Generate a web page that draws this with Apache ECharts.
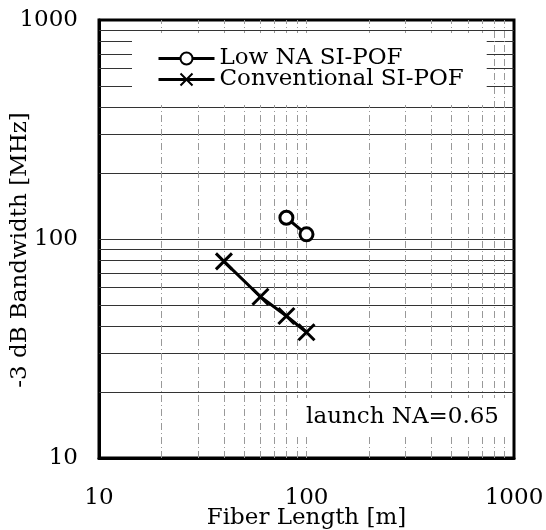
<!DOCTYPE html>
<html>
<head>
<meta charset="utf-8">
<style>
html, body { margin: 0; padding: 0; background: #fff; }
#myChart { width: 546px; height: 530px; }
</style>
<script src="https://cdn.jsdelivr.net/npm/echarts@6/dist/echarts.min.js"></script>
</head>
<body>
<div id="myChart"></div>
<script>
// data
const lowNaLength = [80, 100]
const lowNaBandwidth = [125, 105]
const convLength = [40, 60, 80, 100]
const convBandwidth = [79, 54.5, 44.5, 37.5]

// log grid lines (minor + major)
const xGridValues = [20, 30, 40, 50, 60, 70, 80, 90, 100, 200, 300, 400, 500, 600, 700, 800, 900]
const yGridValues = [20, 30, 40, 50, 60, 70, 80, 90, 100, 200, 300, 400, 500, 600, 700, 800, 900]

const FONT = 'DejaVu Serif'

let myChart = echarts.init(document.getElementById('myChart'))
myChart.setOption({
  animation: false,
  backgroundColor: '#fff',
  grid: {
    left: 99,
    right: 32,
    top: 20,
    bottom: 72,
    containLabel: false,
    outerBoundsMode: 'none',
    show: true,
    borderColor: '#000',
    borderWidth: 3
  },
  title: {
    text: 'launch NA=0.65',
    right: 38,
    top: 398,
    z: 20,
    padding: [8, 9, 8, 12],
    backgroundColor: '#fff',
    textStyle: {
      fontFamily: FONT,
      fontSize: 23,
      fontWeight: 'normal',
      color: '#000'
    }
  },
  legend: {
    data: ['Low NA SI-POF', 'Conventional SI-POF'],
    orient: 'vertical',
    left: 132,
    top: 33,
    z: 20,
    padding: [14, 23, 14, 25],
    backgroundColor: '#fff',
    itemWidth: 56,
    itemHeight: 15,
    itemGap: -2,
    lineStyle: { width: 3 },
    textStyle: {
      fontFamily: FONT,
      fontSize: 23,
      color: '#000'
    }
  },
  xAxis: {
    type: 'log',
    logBase: 10,
    min: 10,
    max: 1000,
    name: 'Fiber Length [m]',
    nameLocation: 'middle',
    nameGap: 49,
    nameMoveOverlap: false,
    nameTextStyle: { fontFamily: FONT, fontSize: 23, color: '#000' },
    axisLine: { show: true, lineStyle: { color: '#000', width: 3 } },
    axisTick: { show: false },
    splitLine: { show: false },
    axisLabel: { fontFamily: FONT, fontSize: 23, color: '#000', margin: 29, formatter: v => String(v) }
  },
  yAxis: {
    type: 'log',
    logBase: 10,
    min: 10,
    max: 1000,
    name: '-3 dB Bandwidth [MHz]',
    nameLocation: 'middle',
    nameGap: 67,
    nameMoveOverlap: false,
    nameTextStyle: { fontFamily: FONT, fontSize: 23, color: '#000', padding: [0, 22, 0, 0] },
    axisLine: { show: true, lineStyle: { color: '#000', width: 3 } },
    axisTick: { show: false },
    splitLine: { show: false },
    axisLabel: { fontFamily: FONT, fontSize: 23, color: '#000', margin: 21, formatter: v => String(v) }
  },
  series: [
    {
      name: 'hgrid',
      type: 'line',
      data: [],
      silent: true,
      z: 1,
      markLine: {
        silent: true,
        symbol: 'none',
        label: { show: false },
        lineStyle: { color: '#333', width: 1, type: 'solid' },
        data: yGridValues.map(v => ({ yAxis: v }))
      }
    },
    {
      name: 'vgrid',
      type: 'line',
      data: [],
      silent: true,
      z: 1,
      markLine: {
        silent: true,
        symbol: 'none',
        label: { show: false },
        lineStyle: { color: '#999', width: 1, type: [7, 3, 1, 3] },
        data: xGridValues.map(v => ({ xAxis: v }))
      }
    },
    {
      name: 'Low NA SI-POF',
      type: 'line',
      z: 5,
      symbol: 'circle',
      symbolSize: 13,
      lineStyle: { color: '#000', width: 3 },
      itemStyle: { color: '#fff', borderColor: '#000', borderWidth: 3 },
      data: lowNaLength.map((x, i) => [x, lowNaBandwidth[i]])
    },
    {
      name: 'Conventional SI-POF',
      type: 'line',
      z: 5,
      symbol: 'path://M0,0L10,10M10,0L0,10',
      symbolSize: 16,
      lineStyle: { color: '#000', width: 3 },
      itemStyle: { color: '#000', borderColor: '#000', borderWidth: 3 },
      data: convLength.map((x, i) => [x, convBandwidth[i]])
    }
  ]
})
</script>
</body>
</html>
